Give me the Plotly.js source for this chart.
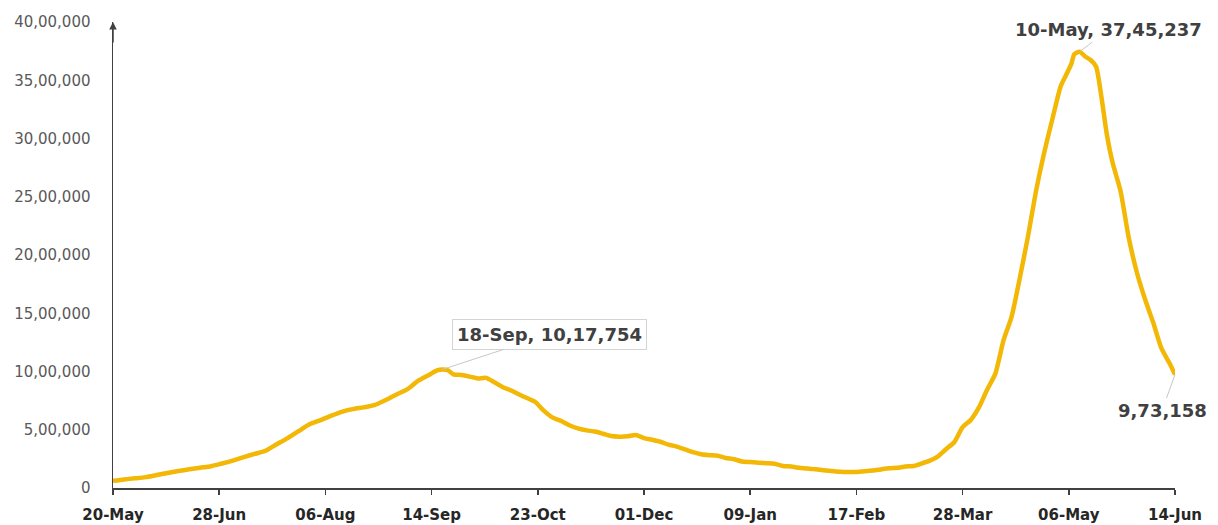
<!DOCTYPE html>
<html>
<head>
<meta charset="utf-8">
<script src="https://cdn.plot.ly/plotly-3.0.1.min.js"></script>
<style>html,body{margin:0;padding:0;background:#fff;}#chart{width:1218px;height:525px;}</style>
</head>
<body>
<div id="chart"></div>
<script>
const dates = [
'2020-05-20','2020-05-24','2020-05-28','2020-06-01','2020-06-05','2020-06-09','2020-06-13','2020-06-17','2020-06-21','2020-06-25','2020-06-29',
'2020-07-03','2020-07-07','2020-07-11','2020-07-15','2020-07-19','2020-07-23','2020-07-27','2020-07-31',
'2020-08-04','2020-08-08','2020-08-12','2020-08-16','2020-08-20','2020-08-24','2020-08-28',
'2020-09-01','2020-09-05','2020-09-09','2020-09-13','2020-09-16','2020-09-18','2020-09-20','2020-09-22','2020-09-25','2020-09-28',
'2020-10-01','2020-10-04','2020-10-07','2020-10-10','2020-10-13','2020-10-16','2020-10-19','2020-10-22','2020-10-25','2020-10-28',
'2020-11-01','2020-11-04','2020-11-07','2020-11-10','2020-11-13','2020-11-16','2020-11-19','2020-11-22','2020-11-25','2020-11-28',
'2020-12-01','2020-12-04','2020-12-07','2020-12-10','2020-12-13','2020-12-16','2020-12-19','2020-12-22','2020-12-25','2020-12-28','2020-12-31',
'2021-01-03','2021-01-06','2021-01-09','2021-01-12','2021-01-15','2021-01-18','2021-01-21','2021-01-24','2021-01-27','2021-01-30',
'2021-02-02','2021-02-05','2021-02-08','2021-02-11','2021-02-14','2021-02-17','2021-02-20','2021-02-23','2021-02-26',
'2021-03-01','2021-03-04','2021-03-07','2021-03-10','2021-03-13','2021-03-16','2021-03-19','2021-03-22','2021-03-25','2021-03-28','2021-03-31',
'2021-04-03','2021-04-06','2021-04-09','2021-04-12','2021-04-15','2021-04-18','2021-04-21','2021-04-24','2021-04-27','2021-04-30',
'2021-05-03','2021-05-05','2021-05-07','2021-05-08','2021-05-10','2021-05-12','2021-05-14','2021-05-16','2021-05-18','2021-05-20','2021-05-22','2021-05-25','2021-05-28','2021-05-31',
'2021-06-03','2021-06-06','2021-06-09','2021-06-12','2021-06-14'
];
const activeCases = [
61149,73560,83004,93322,110960,129215,145779,160384,174387,186514,210120,
235433,264944,292258,319840,373379,426167,485114,545318,
580010,619088,653622,676900,692028,710771,752424,
801282,846395,919018,970338,1009976,1017754,1010824,975861,970116,956402,
940441,944996,907883,867496,838729,804528,772055,740090,668154,610803,
570458,533787,509673,494657,484547,465478,445794,440962,443486,454940,
428644,413631,396729,372293,354904,332002,307321,289240,281919,277301,257656,
247220,227546,222526,216558,213027,208826,188688,184408,173740,168235,
160057,151460,145634,139637,136549,137342,143127,150055,159590,
168627,173413,184523,189226,210544,234406,271282,334646,395192,521808,584055,
691597,843473,979608,1264698,1471877,1801316,2157538,2552940,2882204,3170228,
3447133,3545000,3645164,3723446,3745237,3704099,3673802,3618458,3353765,3029925,2800000,2550000,2150000,1850000,
1620000,1420000,1200000,1070000,973158
];
const xTickDates = ['2020-05-20','2020-06-28','2020-08-06','2020-09-14','2020-10-23','2020-12-01','2021-01-09','2021-02-17','2021-03-28','2021-05-06','2021-06-14'];
const xTickLabels = ['20-May','28-Jun','06-Aug','14-Sep','23-Oct','01-Dec','09-Jan','17-Feb','28-Mar','06-May','14-Jun'];
const yTickValues = [0,500000,1000000,1500000,2000000,2500000,3000000,3500000,4000000];
const yTickLabels = ['0','5,00,000','10,00,000','15,00,000','20,00,000','25,00,000','30,00,000','35,00,000','40,00,000'];
const labelDates = ['2020-09-18','2021-05-10','2021-06-14'];
const labelValues = [1017754,3745237,973158];
const labelTexts = ['18-Sep, 10,17,754','10-May, 37,45,237','9,73,158'];

const labelStyles = [
  {ax:107, ay:-35, bordercolor:'#d4d4d4', borderwidth:1, bgcolor:'#ffffff', borderpad:4},
  {ax:29, ay:-22, bordercolor:'rgba(0,0,0,0)', borderwidth:0, bgcolor:'rgba(255,255,255,0)', borderpad:2},
  {ax:-13, ay:36, bordercolor:'rgba(0,0,0,0)', borderwidth:0, bgcolor:'rgba(255,255,255,0)', borderpad:2}
];

const annotations = labelDates.map((d,i)=>Object.assign({
  x:d, y:labelValues[i], xref:'x', yref:'y', text:'<b>'+labelTexts[i]+'</b>',
  showarrow:true, arrowhead:0, arrowwidth:1, arrowcolor:'#c8c8c8', standoff:0,
  font:{family:'DejaVu Sans', size:18, color:'#404040'}
}, labelStyles[i]));

annotations.push({
  x:0, y:1, xref:'paper', yref:'paper', text:'', showarrow:true,
  ax:0, ay:22, arrowhead:2, arrowsize:1, arrowwidth:1.5, arrowcolor:'#404040', standoff:0
});

const trace = {
  x: dates, y: activeCases, type:'scatter', mode:'lines',
  line:{color:'#F3B705', width:4.5, shape:'spline', smoothing:0.6}, hoverinfo:'x+y'
};

const layout = {
  width:1218, height:525,
  margin:{l:113, r:43, t:22, b:37},
  paper_bgcolor:'#ffffff', plot_bgcolor:'#ffffff',
  showlegend:false,
  xaxis:{
    type:'date', range:['2020-05-20','2021-06-14'],
    tickmode:'array', tickvals:xTickDates, ticktext:xTickLabels,
    showgrid:false, zeroline:false, showline:true, linecolor:'#404040', linewidth:1.5,
    ticks:'outside', ticklen:5, tickwidth:1.5, tickcolor:'#404040', ticklabelstandoff:7,
    tickfont:{family:'DejaVu Sans', size:15, color:'#262626', weight:'bold'}
  },
  yaxis:{
    range:[0,4000000], tickmode:'array', tickvals:yTickValues, ticktext:yTickLabels,
    showgrid:false, zeroline:false, showline:true, linecolor:'#404040', linewidth:1.5,
    ticks:'', ticklabelstandoff:18,
    tickfont:{family:'DejaVu Sans', size:15, color:'#595959'}
  },
  annotations: annotations
};

Plotly.newPlot('chart', [trace], layout, {displayModeBar:false, staticPlot:true});
</script>
</body>
</html>
